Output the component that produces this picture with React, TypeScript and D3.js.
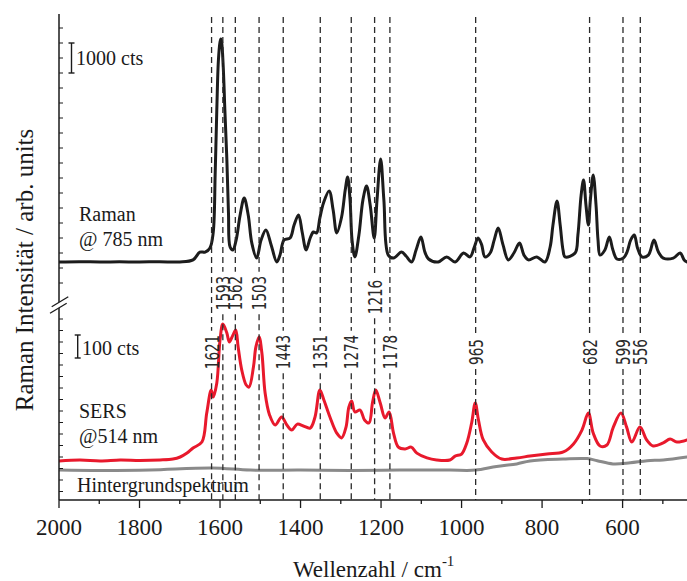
import React from 'react';
import * as d3 from 'd3';

// Raman @ 785 nm: [wavenumber cm^-1, counts]
const ramanSpectrum: [number, number][] = [
  [2000, 200], [1950, 210], [1898, 200], [1850, 205], [1800, 200], [1750, 210], [1700, 200],
  [1667, 270], [1650, 530], [1637, 530], [1625, 670], [1617, 1170], [1612, 3170], [1608, 5270],
  [1604, 6930], [1600, 7530], [1598, 7630], [1596, 7530], [1592, 6700], [1588, 5270], [1583, 3600],
  [1579, 1830], [1575, 700], [1568, 600], [1560, 930], [1550, 1770], [1540, 2330], [1530, 1770],
  [1521, 830], [1509, 330], [1498, 930], [1486, 1270], [1473, 770], [1459, 200], [1451, 430],
  [1441, 930], [1426, 1000], [1416, 1430], [1405, 1770], [1396, 1200], [1386, 600], [1376, 1000],
  [1368, 1200], [1360, 1170], [1352, 1670], [1343, 2170], [1329, 2570], [1319, 1930], [1310, 1170],
  [1298, 1700], [1289, 2600], [1283, 3030], [1277, 2270], [1272, 930], [1265, 370], [1255, 1100],
  [1245, 2270], [1236, 2730], [1227, 2100], [1217, 1000], [1210, 2270], [1201, 3630], [1193, 2270],
  [1182, 430], [1169, 330], [1149, 530], [1138, 400], [1124, 200], [1113, 600], [1101, 1030],
  [1091, 530], [1082, 300], [1058, 200], [1037, 370], [1016, 200], [995, 500], [979, 370],
  [969, 670], [959, 1000], [950, 770], [942, 370], [929, 500], [919, 930], [909, 1330], [897, 770],
  [884, 270], [870, 500], [856, 830], [845, 430], [834, 270], [813, 370], [793, 200], [780, 700],
  [773, 1430], [763, 2230], [755, 1430], [748, 600], [743, 370], [718, 500], [711, 1100],
  [703, 2430], [697, 2930], [691, 2100], [685, 1430], [680, 2270], [673, 3100], [666, 2100],
  [661, 930], [656, 430], [644, 600], [633, 1030], [624, 600], [614, 300], [598, 330], [589, 530],
  [580, 930], [571, 1100], [563, 670], [552, 370], [536, 430], [522, 930], [511, 530], [499, 330],
  [474, 330], [457, 500], [447, 270], [440, 200],
];

// SERS @ 514 nm: [wavenumber, counts]
const sersSpectrum: [number, number][] = [
  [2000, 83], [1948, 87], [1898, 83], [1848, 87], [1799, 85], [1749, 87], [1717, 91], [1699, 100],
  [1682, 117], [1667, 139], [1645, 165], [1633, 291], [1622, 391], [1617, 361], [1608, 422],
  [1600, 609], [1593, 678], [1583, 639], [1577, 600], [1568, 630], [1561, 652], [1555, 578],
  [1546, 478], [1535, 413], [1528, 404], [1517, 491], [1511, 578], [1503, 622], [1496, 552],
  [1488, 378], [1477, 283], [1463, 239], [1447, 274], [1434, 239], [1422, 217], [1408, 243],
  [1393, 235], [1376, 226], [1364, 274], [1352, 391], [1342, 348], [1327, 274], [1310, 204],
  [1298, 183], [1287, 230], [1280, 317], [1273, 343], [1265, 296], [1252, 304], [1241, 261],
  [1230, 248], [1221, 339], [1213, 391], [1202, 335], [1190, 270], [1180, 296], [1169, 204],
  [1157, 143], [1140, 135], [1125, 143], [1111, 117], [1086, 96], [1062, 87], [1029, 87],
  [1016, 104], [1000, 113], [987, 161], [975, 248], [966, 335], [958, 261], [946, 174], [925, 122],
  [900, 91], [863, 96], [830, 104], [788, 113], [747, 122], [722, 157], [701, 217], [685, 291],
  [673, 204], [656, 148], [639, 152], [623, 230], [604, 291], [590, 230], [577, 165], [557, 230],
  [540, 174], [524, 148], [499, 161], [482, 178], [465, 165], [440, 174],
];

// Background spectrum: [wavenumber, counts]
const backgroundSpectrum: [number, number][] = [
  [2000, 43], [1898, 41], [1774, 43], [1620, 52], [1525, 43], [1401, 43], [1277, 41], [1153, 43],
  [1029, 43], [966, 43], [913, 59], [863, 70], [830, 83], [748, 91], [688, 93], [663, 84],
  [624, 70], [581, 75], [539, 84], [499, 87], [440, 100],
];

const peakPositions = [1621, 1593, 1562, 1503, 1443, 1351, 1274, 1216, 1178, 965, 682, 599, 556];
const peakLabelRow = ['low', 'high', 'high', 'high', 'low', 'low', 'low', 'high', 'low', 'low', 'low', 'low', 'low'];
const xTickValues = [2000, 1800, 1600, 1400, 1200, 1000, 800, 600];

const W = 687;
const H = 581;
const LEFT = 59;
const RIGHT = 687;
const TOP = 14;
const BOTTOM = 500;

const serif = "'Liberation Serif', 'DejaVu Serif', 'Times New Roman', serif";
const narrow = "'Liberation Sans Narrow', 'DejaVu Sans Condensed', 'Liberation Sans', Arial, sans-serif";

export default function App() {
  const x = d3.scaleLinear().domain([2000, 440]).range([LEFT, RIGHT]);
  const ramanY = d3.scaleLinear().domain([200, 1200]).range([262, 232]);
  const sersY = d3.scaleLinear().domain([0, 100]).range([480, 457]);

  const curve = d3.curveCatmullRom.alpha(0.5);
  const ramanLine = d3.line<[number, number]>().x(d => x(d[0])).y(d => ramanY(d[1])).curve(curve);
  const sersLine = d3.line<[number, number]>().x(d => x(d[0])).y(d => sersY(d[1])).curve(curve);

  const minorX = d3.range(2000, 439, -100);
  const upperTicks = d3.range(-500, 8600, 500).map(v => ramanY(v)).filter(y => y >= TOP && y <= 292);
  const lowerTicks = d3.range(-50, 800, 50).map(v => sersY(v)).filter(y => y >= 318 && y < BOTTOM);

  const labelCenter = (row: string) => (row === 'high' ? 293 : 352);

  return (
    <svg width={W} height={H} style={{ position: 'absolute', left: 0, top: 0, background: '#fff' }}>
      <defs>
        <clipPath id="plotclip">
          <rect x={LEFT} y={0} width={RIGHT - LEFT} height={BOTTOM} />
        </clipPath>
      </defs>
      <rect x={0} y={0} width={W} height={H} fill="#fff" />

      {/* spectra */}
      <g clipPath="url(#plotclip)" fill="none" strokeLinejoin="round" strokeLinecap="round">
        <path d={sersLine(backgroundSpectrum) || ''} stroke="#8a8a8a" strokeWidth={3} />
        <path d={sersLine(sersSpectrum) || ''} stroke="#e8192c" strokeWidth={3} />
        <path d={ramanLine(ramanSpectrum) || ''} stroke="#1c1c1c" strokeWidth={3} />
      </g>

      {/* dashed peak lines and labels */}
      {peakPositions.map((wn, i) => {
        const px = x(wn);
        const label = String(wn);
        const len = label.length * 8.6;
        const cy = labelCenter(peakLabelRow[i]) + (wn === 1216 ? 4 : 0);
        const gapTop = cy - len / 2 - 4;
        const gapBot = cy + len / 2 + 4;
        return (
          <g key={wn}>
            <line x1={px} x2={px} y1={17} y2={gapTop} stroke="#2a2a2a" strokeWidth={1.3} strokeDasharray="6,4" />
            <line x1={px} x2={px} y1={gapBot} y2={BOTTOM} stroke="#2a2a2a" strokeWidth={1.3} strokeDasharray="6,4" />
            <text
              transform={`translate(${px + 7},${cy}) rotate(-90)`}
              textAnchor="middle"
              style={{ fontFamily: narrow }}
              fontSize={19}
              fill="#2a2a2a"
              textLength={len}
              lengthAdjust="spacingAndGlyphs"
            >
              {label}
            </text>
          </g>
        );
      })}

      {/* axes */}
      <line x1={LEFT} x2={LEFT} y1={TOP} y2={BOTTOM} stroke="#1a1a1a" strokeWidth={1.5} />
      <line x1={LEFT} x2={RIGHT} y1={BOTTOM} y2={BOTTOM} stroke="#1a1a1a" strokeWidth={1.5} />
      {upperTicks.map((y, i) => (
        <line key={'u' + i} x1={LEFT} x2={LEFT + 4} y1={y} y2={y} stroke="#1a1a1a" strokeWidth={1} />
      ))}
      {lowerTicks.map((y, i) => (
        <line key={'l' + i} x1={LEFT} x2={LEFT + 4} y1={y} y2={y} stroke="#1a1a1a" strokeWidth={1} />
      ))}
      {minorX.map(v => (
        <line key={'x' + v} x1={x(v)} x2={x(v)} y1={BOTTOM} y2={BOTTOM + (v % 200 === 0 ? 8 : 4)} stroke="#1a1a1a" strokeWidth={1.3} />
      ))}
      {xTickValues.map(v => (
        <text key={'xl' + v} x={x(v)} y={535} textAnchor="middle" style={{ fontFamily: serif }} fontSize={23} fill="#1a1a1a">
          {v}
        </text>
      ))}

      {/* axis break */}
      <polygon points="51.7,306.7 68.3,296.7 66.7,303.3 50,313.3" fill="#fff" />
      <line x1={51.7} y1={306.7} x2={68.3} y2={296.7} stroke="#1a1a1a" strokeWidth={1.3} />
      <line x1={50} y1={313.3} x2={66.7} y2={303.3} stroke="#1a1a1a" strokeWidth={1.3} />

      {/* scale bars */}
      <g stroke="#1a1a1a" strokeWidth={1.4}>
        <line x1={71.5} x2={71.5} y1={43} y2={73} />
        <line x1={68.5} x2={74.5} y1={43} y2={43} />
        <line x1={68.5} x2={74.5} y1={73} y2={73} />
        <line x1={77.7} x2={77.7} y1={335} y2={358} />
        <line x1={74.7} x2={80.7} y1={335} y2={335} />
        <line x1={74.7} x2={80.7} y1={358} y2={358} />
      </g>
      <g style={{ fontFamily: serif }} fontSize={20} fill="#1a1a1a">
        <text x={76} y={65}>1000 cts</text>
        <text x={82} y={355}>100 cts</text>
        <text x={79} y={221}>Raman</text>
        <text x={79} y={246}>@ 785 nm</text>
        <text x={79} y={418}>SERS</text>
        <text x={79} y={443}>@514 nm</text>
        <text x={77} y={492}>Hintergrundspektrum</text>
      </g>

      {/* axis titles */}
      <text transform="translate(33,270) rotate(-90)" textAnchor="middle" style={{ fontFamily: serif }} fontSize={25} fill="#1a1a1a">
        Raman Intensität / arb. units
      </text>
      <text x={293} y={577} style={{ fontFamily: serif }} fontSize={23} fill="#1a1a1a">
        Wellenzahl / cm
        <tspan fontSize={15} dy={-11}>-1</tspan>
      </text>
    </svg>
  );
}
